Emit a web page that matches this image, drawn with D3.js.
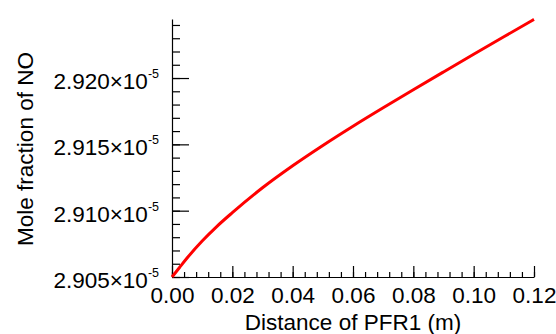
<!DOCTYPE html>
<html lang="en">
<head>
    <meta charset="UTF-8">
    <title>Mole fraction of NO</title>
    <script src="https://d3js.org/d3.v7.min.js"></script>
    <style>
        body { margin: 0; background: #fff; }
        text { font-family: "Liberation Sans", Arial, sans-serif; fill: #000; }
    </style>
</head>
<body>
    <div id="chart"></div>
    <script>
        // values (distance in m, mole fraction x 1e-5)
        var distance = [0, 0.0025, 0.005, 0.010, 0.015, 0.020, 0.030, 0.040, 0.050, 0.060, 0.070, 0.080, 0.090, 0.100, 0.110, 0.120];
        var moleNO   = [2.90500, 2.90572, 2.90643, 2.90771, 2.90884, 2.90985, 2.91173, 2.91339, 2.91492, 2.91637, 2.91776, 2.91912, 2.92046, 2.92179, 2.92311, 2.92442];
        var yTicks = [2.905, 2.910, 2.915, 2.920];
        var xTicks = [0, 0.02, 0.04, 0.06, 0.08, 0.10, 0.12];

        var width = 556, height = 334;
        var margin = {top: 19, right: 22, bottom: 57, left: 172};
        var fontSize = "22.5px";

        var svg = d3.select("#chart").append("svg")
            .attr("width", width)
            .attr("height", height);

        var x = d3.scaleLinear()
            .domain([0, 0.12])
            .range([margin.left, width - margin.right]);

        var y = d3.scaleLinear()
            .domain([2.905, 2.92445])
            .range([height - margin.bottom, margin.top]);

        // minor ticks
        var xMinor = d3.range(0, 0.1201, 0.004);
        var yMinor = d3.range(2.905, 2.92445, 0.001);

        svg.append("g")
            .attr("transform", "translate(0," + (height - margin.bottom) + ")")
            .call(d3.axisBottom(x).tickValues(xMinor).tickSize(-5).tickFormat(""))
            .call(g => g.select(".domain").remove());

        svg.append("g")
            .attr("transform", "translate(" + margin.left + ",0)")
            .call(d3.axisLeft(y).tickValues(yMinor).tickSize(-8).tickFormat(""))
            .call(g => g.select(".domain").remove());

        // major x axis
        var xAxis = svg.append("g")
            .attr("transform", "translate(0," + (height - margin.bottom) + ")")
            .call(d3.axisBottom(x).tickValues(xTicks).tickSizeInner(-11).tickSizeOuter(0).tickPadding(10)
                .tickFormat(d3.format(".2f")));
        xAxis.selectAll("text").style("font-size", fontSize);

        // major y axis, labels like 2.920x10^-5
        var yAxis = svg.append("g")
            .attr("transform", "translate(" + margin.left + ",0)")
            .call(d3.axisLeft(y).tickValues(yTicks).tickSizeInner(-17).tickSizeOuter(0).tickPadding(13)
                .tickFormat(""));
        yAxis.selectAll(".tick text").each(function(d) {
            var t = d3.select(this).style("font-size", fontSize).attr("dy", "0.46em");
            t.append("tspan").text(d3.format(".3f")(d) + "\u00d710");
            t.append("tspan").attr("dy", -11).style("font-size", "12.5px").text("-5");
        });
        svg.selectAll(".domain, .tick line").attr("stroke", "#000").attr("stroke-width", 1.2);

        var line = d3.line()
            .x(function(d, i) { return x(distance[i]); })
            .y(function(d) { return y(d); })
            .curve(d3.curveMonotoneX);

        svg.append("path")
            .datum(moleNO)
            .attr("fill", "none")
            .attr("stroke", "#ff0000")
            .attr("stroke-width", 3)
            .attr("d", line);

        // axis titles
        svg.append("text")
            .attr("x", (margin.left + width - margin.right) / 2)
            .attr("y", 330)
            .attr("text-anchor", "middle")
            .style("font-size", fontSize)
            .text("Distance of PFR1 (m)");

        svg.append("text")
            .attr("transform", "translate(33,149) rotate(-90)")
            .attr("text-anchor", "middle")
            .style("font-size", fontSize)
            .text("Mole fraction of NO");
    </script>
</body>
</html>
